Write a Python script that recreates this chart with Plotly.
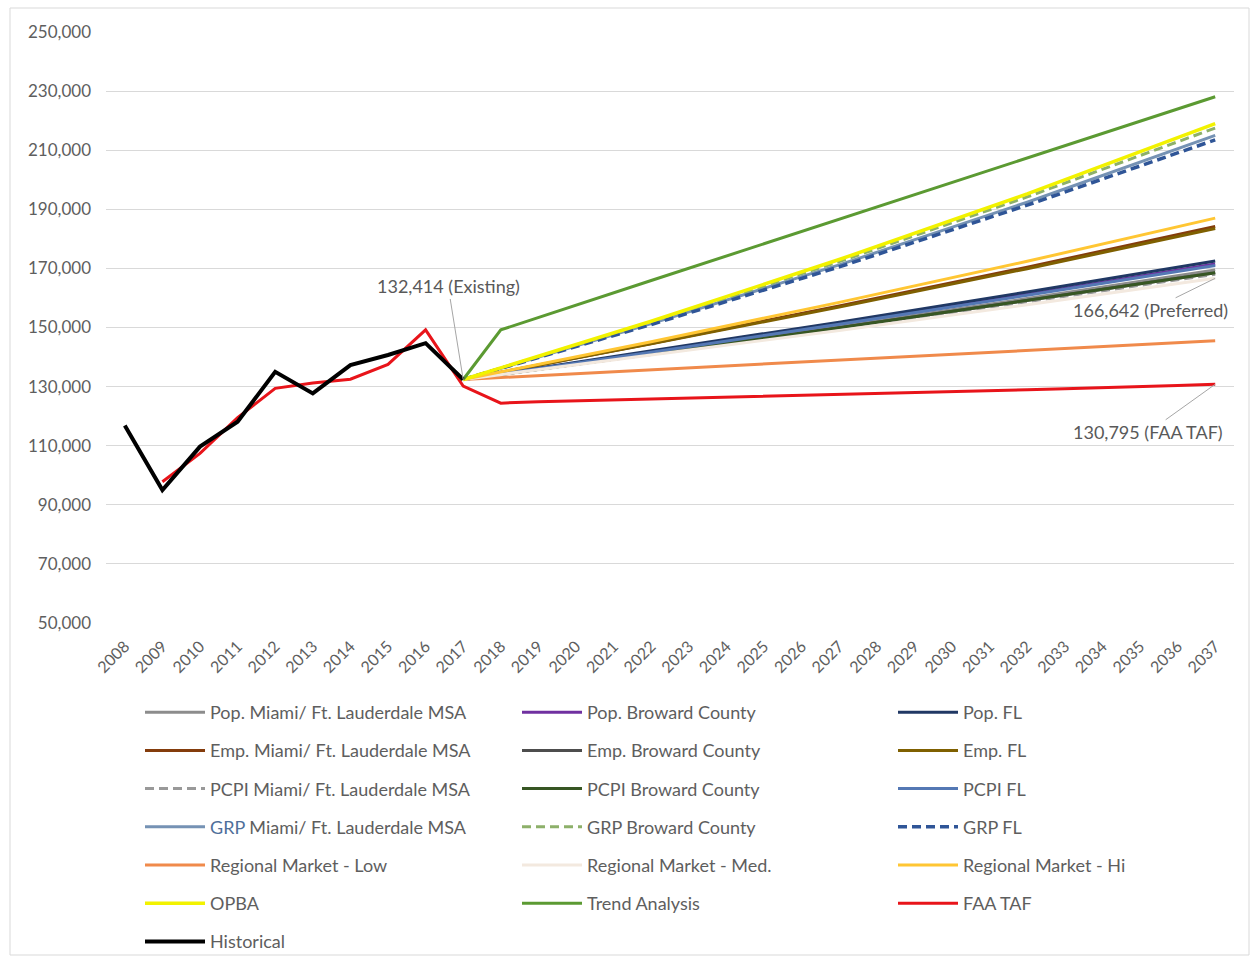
import plotly.graph_objects as go

# ---------------- data ----------------
YEAR_TICKS = [2008, 2009, 2010, 2011, 2012, 2013, 2014, 2015, 2016, 2017,
              2018, 2019, 2020, 2021, 2022, 2023, 2024, 2025, 2026, 2027,
              2028, 2029, 2030, 2031, 2032, 2033, 2034, 2035, 2036, 2037]

YEARS_HIST = [2008, 2009, 2010, 2011, 2012, 2013, 2014, 2015, 2016, 2017]
historical = [116800, 95000, 109700, 118100, 135000, 127700, 137300, 140700, 144700, 132414]

YEARS_TAF = [2009, 2010, 2011, 2012, 2013, 2014, 2015, 2016, 2017, 2018,
             2019, 2020, 2021, 2022, 2023, 2024, 2025, 2026, 2027, 2028,
             2029, 2030, 2031, 2032, 2033, 2034, 2035, 2036, 2037]
faa_taf = [97800, 107400, 119500, 129400, 131200, 132500, 137500, 149200, 130200, 124400,
           124900, 125200, 125500, 125800, 126000, 126300, 126600, 127000, 127300, 127600,
           127900, 128200, 128600, 128900, 129300, 129600, 130000, 130400, 130795]

YEARS_PROJ = [2017, 2022, 2027, 2032, 2037]
pop_miami = [132414, 141300, 150400, 159800, 169500]
pop_broward = [132414, 141700, 151300, 161200, 171500]
pop_fl = [132414, 142000, 151800, 162000, 172500]
emp_miami = [132414, 144600, 157300, 170400, 184200]
emp_broward = [132414, 141000, 149900, 159100, 168500]
emp_fl = [132414, 144500, 156900, 169900, 183500]
pcpi_miami = [132414, 140900, 149700, 158700, 168000]
pcpi_broward = [132414, 141000, 149900, 159100, 168500]
pcpi_fl = [132414, 141600, 151100, 160900, 171000]
grp_miami = [132414, 151300, 171200, 192400, 215000]
grp_broward = [132414, 151800, 172300, 194200, 217500]
grp_fl = [132414, 151000, 170500, 191400, 213500]
rm_low = [132414, 135700, 138900, 142200, 145500]
rm_med = [132414, 140600, 149000, 157700, 166642]
rm_hi = [132414, 145200, 158500, 172400, 187000]
opba = [132414, 152100, 173000, 195200, 219000]

YEARS_TREND = [2017, 2018, 2022, 2027, 2032, 2037]
trend = [132414, 149200, 165900, 186600, 207400, 228100]

Y_TICKS = [50000, 70000, 90000, 110000, 130000, 150000, 170000, 190000, 210000, 230000, 250000]

# (name, x, y, color, dash, width, legend)
series = [
    ("Pop. Miami/ Ft. Lauderdale MSA", YEARS_PROJ, pop_miami, "#8C8C8C", "solid", 3, "legend"),
    ("Pop. Broward County", YEARS_PROJ, pop_broward, "#7030A0", "solid", 3, "legend2"),
    ("Pop. FL", YEARS_PROJ, pop_fl, "#203864", "solid", 3, "legend3"),
    ("Emp. Miami/ Ft. Lauderdale MSA", YEARS_PROJ, emp_miami, "#843C0C", "solid", 3, "legend"),
    ("Emp. Broward County", YEARS_PROJ, emp_broward, "#4D4D4D", "solid", 3, "legend2"),
    ("Emp. FL", YEARS_PROJ, emp_fl, "#7F6000", "solid", 3, "legend3"),
    ("PCPI Miami/ Ft. Lauderdale MSA", YEARS_PROJ, pcpi_miami, "#999999", "9px,5px", 3, "legend"),
    ("PCPI Broward County", YEARS_PROJ, pcpi_broward, "#375623", "solid", 3, "legend2"),
    ("PCPI FL", YEARS_PROJ, pcpi_fl, "#5478B4", "solid", 3, "legend3"),
    ("<span style='color:#4F6F9A'>GRP</span> Miami/ Ft. Lauderdale MSA", YEARS_PROJ, grp_miami, "#7592B4", "solid", 3, "legend"),
    ("GRP Broward County", YEARS_PROJ, grp_broward, "#8DB06A", "9px,5px", 3, "legend2"),
    ("GRP FL", YEARS_PROJ, grp_fl, "#2F5597", "9px,5px", 3.5, "legend3"),
    ("Regional Market - Low", YEARS_PROJ, rm_low, "#F08A4B", "solid", 3, "legend"),
    ("Regional Market - Med.", YEARS_PROJ, rm_med, "#F3E9DF", "solid", 3, "legend2"),
    ("Regional Market - Hi", YEARS_PROJ, rm_hi, "#FFC633", "solid", 3, "legend3"),
    ("OPBA", YEARS_PROJ, opba, "#F2F200", "solid", 3.5, "legend"),
    ("Trend Analysis", YEARS_TREND, trend, "#5B9A32", "solid", 3, "legend2"),
    ("FAA TAF", YEARS_TAF, faa_taf, "#E8141A", "solid", 3, "legend3"),
    ("Historical", YEARS_HIST, historical, "#000000", "solid", 4, "legend"),
]

FONT = "Lato, 'Open Sans', sans-serif"
TXT = "#5E5E5E"

fig = go.Figure()
for i, (name, xs, ys, color, dash, width, leg) in enumerate(series):
    fig.add_trace(go.Scatter(
        x=xs, y=ys, mode="lines", name=name,
        line=dict(color=color, width=width, dash=dash),
        legend=leg, legendgroup=f"g{i}",
        hovertemplate="%{x}: %{y:,.0f}<extra>" + name + "</extra>",
    ))

PL, PR, PT, PB = 106, 1234, 32, 623
W, H = 1252, 958

def px_to_paper_x(px):
    return (px - PL) / (PR - PL)

def px_to_paper_y(py):
    return (PB - py) / (PB - PT)

legend_common = dict(
    orientation="v", traceorder="grouped", tracegroupgap=11.8,
    font=dict(family=FONT, size=18, color=TXT),
    bgcolor="rgba(0,0,0,0)", yanchor="top", xanchor="left",
    itemwidth=60,
)

fig.update_layout(
    width=W, height=H,
    margin=dict(l=PL, r=W - PR, t=PT, b=H - PB, autoexpand=False),
    paper_bgcolor="white", plot_bgcolor="white",
    font=dict(family=FONT, size=16, color=TXT),
    showlegend=True,
    legend=dict(x=px_to_paper_x(140), y=px_to_paper_y(694), **legend_common),
    legend2=dict(x=px_to_paper_x(517), y=px_to_paper_y(694), **legend_common),
    legend3=dict(x=px_to_paper_x(893), y=px_to_paper_y(694), **legend_common),
    xaxis=dict(
        range=[2007.5, 2037.5], tickmode="array", tickvals=YEAR_TICKS,
        ticktext=[str(y) for y in YEAR_TICKS], tickangle=-45,
        showgrid=False, zeroline=False, showline=False, ticks="",
        ticklabelstandoff=10,
        tickfont=dict(family=FONT, size=16, color=TXT),
    ),
    yaxis=dict(
        range=[50000, 250000], tickmode="array", tickvals=Y_TICKS,
        tickformat=",d", showgrid=True, gridcolor="#D9D9D9", gridwidth=1,
        zeroline=False, showline=False, ticks="",
        ticklabelstandoff=14,
        tickfont=dict(family=FONT, size=17, color=TXT),
    ),
    shapes=[dict(
        type="rect", xref="paper", yref="paper",
        x0=px_to_paper_x(10), x1=px_to_paper_x(1249),
        y0=px_to_paper_y(955), y1=px_to_paper_y(8),
        line=dict(color="#D9D9D9", width=1), fillcolor="rgba(0,0,0,0)", layer="below",
    )],
    annotations=[
        dict(x=2017, y=132414, text="132,414 (Existing)", showarrow=True,
             ax=-15, ay=-93, arrowhead=0, arrowwidth=1, arrowcolor="#A6A6A6",
             standoff=0, font=dict(family=FONT, size=18, color="#595959")),
        dict(x=2037, y=166642, text="166,642 (Preferred)", showarrow=True,
             ax=-65, ay=32, arrowhead=0, arrowwidth=1, arrowcolor="#A6A6A6",
             standoff=0, font=dict(family=FONT, size=18, color="#595959")),
        dict(x=2037, y=130795, text="130,795 (FAA TAF)", showarrow=True,
             ax=-67, ay=48, arrowhead=0, arrowwidth=1, arrowcolor="#A6A6A6",
             standoff=0, font=dict(family=FONT, size=18, color="#595959")),
    ],
)

fig.write_html("out.html")
